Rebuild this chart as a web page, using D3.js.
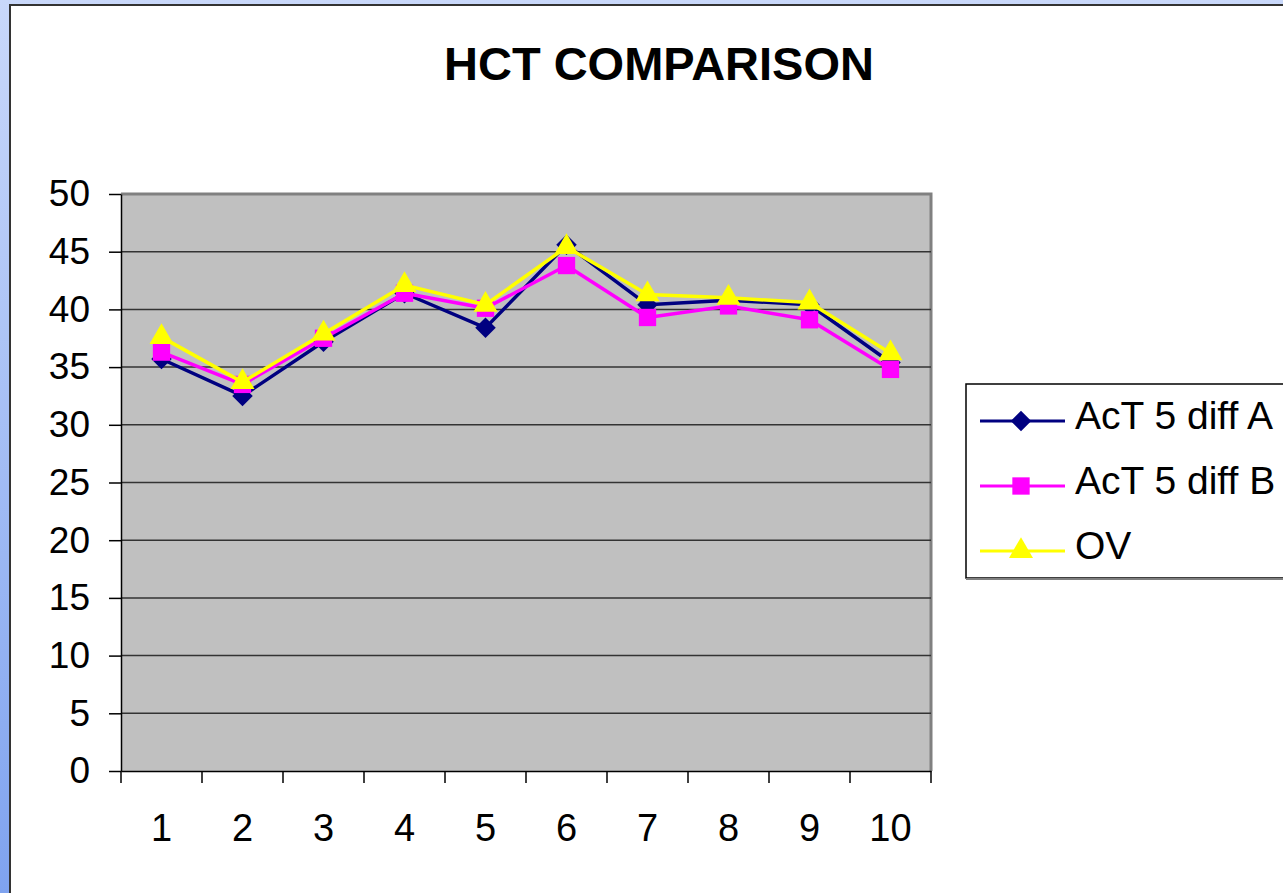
<!DOCTYPE html>
<html>
<head>
<meta charset="utf-8">
<script src="https://cdn.jsdelivr.net/npm/d3@7"></script>
<style>
html, body { margin: 0; padding: 0; overflow: hidden; }
svg { display: block; font-family: Arial, "Liberation Sans", sans-serif; }
</style>
</head>
<body>
<svg id="chart" width="1283" height="893"></svg>
<script>
const categories = [1, 2, 3, 4, 5, 6, 7, 8, 9, 10];
const seriesNames = ["AcT 5 diff A", "AcT 5 diff B", "OV"];
const actA = [35.7, 32.5, 37.2, 41.4, 38.4, 45.6, 40.4, 40.8, 40.4, 35.4];
const actB = [36.3, 33.5, 37.5, 41.4, 40.1, 43.8, 39.3, 40.3, 39.1, 34.8];
const ov   = [37.6, 33.7, 37.9, 42.1, 40.4, 45.4, 41.3, 41.0, 40.6, 36.2];
const yTicks = [0, 5, 10, 15, 20, 25, 30, 35, 40, 45, 50];
const chartTitle = "HCT COMPARISON";

const seriesValues = [actA, actB, ov];
const seriesColors = ["#000080", "#FF00FF", "#FFFF00"];
const seriesSymbols = [d3.symbolSquare, d3.symbolSquare, d3.symbolTriangle];
const symbolRotations = [45, 0, 0];
const symbolSizes = [210, 300, 250];

const svg = d3.select("#chart");

// background
const defs = svg.append("defs");
const grad = defs.append("linearGradient").attr("id", "bg").attr("x1", 0).attr("y1", 0).attr("x2", 0).attr("y2", 1);
grad.append("stop").attr("offset", "0%").attr("stop-color", "#c9d8fa");
grad.append("stop").attr("offset", "100%").attr("stop-color", "#7fa3ef");
svg.append("rect").attr("width", 1283).attr("height", 893).attr("fill", "url(#bg)");

// chart area
svg.append("rect").attr("x", 10).attr("y", 5).attr("width", 1290).attr("height", 900)
  .attr("fill", "#ffffff").attr("stroke", "#333").attr("stroke-width", 2);

const pLeft = 121, pRight = 931, pTop = 194, pBottom = 771;

const x = d3.scaleBand().domain(categories).range([pLeft, pRight]).padding(0);
const y = d3.scaleLinear().domain([0, 50]).range([pBottom, pTop]);

// plot area
svg.append("rect").attr("x", pLeft).attr("y", pTop).attr("width", pRight - pLeft).attr("height", pBottom - pTop)
  .attr("fill", "#C0C0C0");
svg.append("path")
  .attr("d", `M${pLeft},${pTop}H${pRight}V${pBottom}`)
  .attr("fill", "none").attr("stroke", "#808080").attr("stroke-width", 3);

// gridlines
svg.append("g").selectAll("line").data(yTicks.filter(t => t > 0 && t < 50)).join("line")
  .attr("x1", pLeft).attr("x2", pRight)
  .attr("y1", d => y(d)).attr("y2", d => y(d))
  .attr("stroke", "#333").attr("stroke-width", 1.5);

// y axis
const yAxis = svg.append("g").attr("transform", `translate(${pLeft},0)`)
  .call(d3.axisLeft(y).tickValues(yTicks).tickSize(12).tickPadding(19).tickSizeOuter(0));
yAxis.select(".domain").attr("stroke", "#000").attr("stroke-width", 1.5);
yAxis.selectAll(".tick line").attr("stroke", "#000").attr("stroke-width", 1.5);
yAxis.selectAll("text").attr("font-size", 37).attr("fill", "#000").attr("font-family", "Arial, 'Liberation Sans', sans-serif");

// x axis
const xAxis = svg.append("g").attr("transform", `translate(0,${pBottom})`)
  .call(d3.axisBottom(x).tickSize(0).tickPadding(0).tickSizeOuter(0));
xAxis.select(".domain").attr("stroke", "#000").attr("stroke-width", 1.5);
xAxis.selectAll("text").attr("font-size", 38).attr("fill", "#000").attr("dy", 0).attr("y", 70)
  .attr("font-family", "Arial, 'Liberation Sans', sans-serif");
const boundaries = categories.map(c => x(c)).concat([x(categories[categories.length - 1]) + x.bandwidth()]);
xAxis.append("g").selectAll("line").data(boundaries).join("line")
  .attr("x1", d => d).attr("x2", d => d).attr("y1", 0).attr("y2", 12)
  .attr("stroke", "#000").attr("stroke-width", 1.5);

// series
const line = d3.line().x((d, i) => x(categories[i]) + x.bandwidth() / 2).y(d => y(d));
seriesValues.forEach((vals, s) => {
  const g = svg.append("g");
  g.append("path").datum(vals).attr("d", line)
    .attr("fill", "none").attr("stroke", seriesColors[s]).attr("stroke-width", 3.5).attr("stroke-linejoin", "round");
  g.selectAll("path.m").data(vals).join("path").attr("class", "m")
    .attr("transform", (d, i) => `translate(${x(categories[i]) + x.bandwidth() / 2},${y(d)}) rotate(${symbolRotations[s]})`)
    .attr("d", d3.symbol().type(seriesSymbols[s]).size(symbolSizes[s]))
    .attr("fill", seriesColors[s]);
});

// title
svg.append("text").attr("x", 659).attr("y", 80).attr("text-anchor", "middle")
  .attr("font-size", 47).attr("font-weight", "bold").attr("fill", "#000").text(chartTitle);

// legend
const lg = svg.append("g");
lg.append("rect").attr("x", 966).attr("y", 384).attr("width", 330).attr("height", 194)
  .attr("fill", "#fff").attr("stroke", "#000").attr("stroke-width", 1.5);
lg.append("line").attr("x1", 966).attr("x2", 1296).attr("y1", 579).attr("y2", 579)
  .attr("stroke", "#808080").attr("stroke-width", 2);
seriesNames.forEach((name, s) => {
  const cy = 421 + s * 65;
  lg.append("line").attr("x1", 980).attr("x2", 1065).attr("y1", cy).attr("y2", cy)
    .attr("stroke", seriesColors[s]).attr("stroke-width", 3);
  lg.append("path").attr("transform", `translate(1021,${cy}) rotate(${symbolRotations[s]})`)
    .attr("d", d3.symbol().type(seriesSymbols[s]).size(symbolSizes[s])).attr("fill", seriesColors[s]);
  lg.append("text").attr("x", 1075).attr("y", cy + 8).attr("font-size", 39).attr("fill", "#000").text(name);
});
</script>
</body>
</html>
